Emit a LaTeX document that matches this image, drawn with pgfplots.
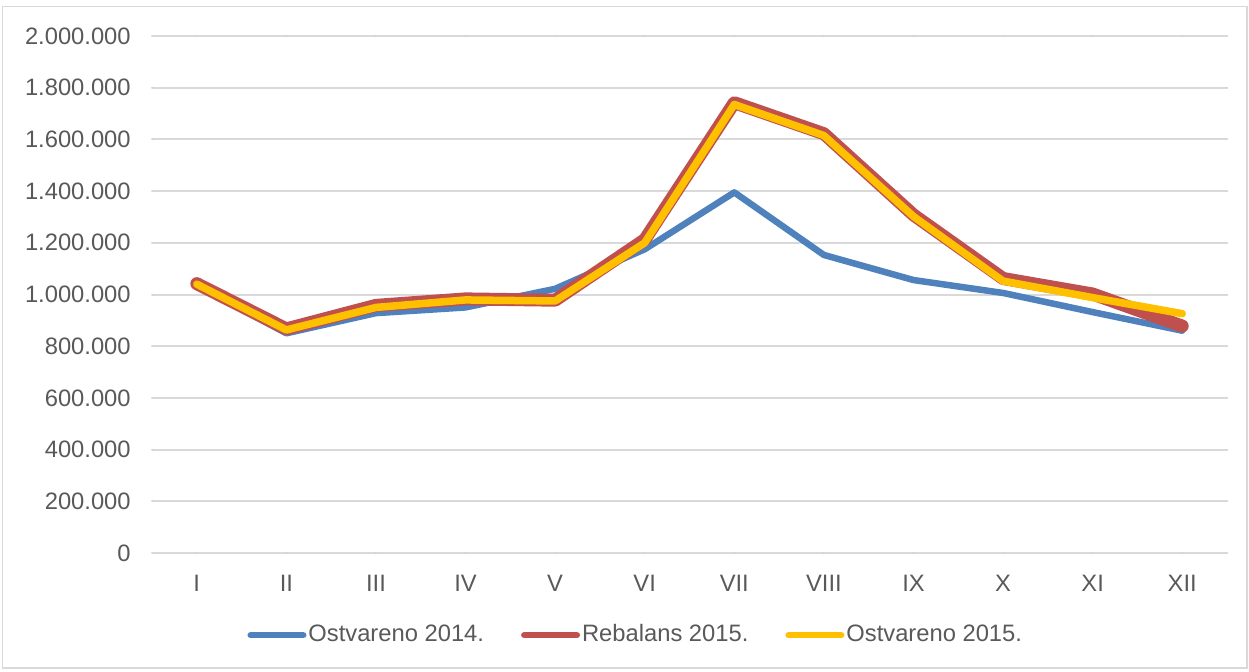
\documentclass[border=0pt]{standalone}
\usepackage{fontspec}
\setmainfont{Liberation Sans}
\usepackage{pgfplots}
\pgfplotsset{compat=1.18}
\definecolor{cblue}{HTML}{4F81BD}
\definecolor{cred}{HTML}{C0504D}
\definecolor{cyellow}{HTML}{FFC000}
\definecolor{gridgray}{HTML}{D9D9D9}
\definecolor{textgray}{HTML}{595959}
\begin{document}
\begin{tikzpicture}[x=1pt,y=1pt]
\useasboundingbox (0,0) rectangle (499.6,268.4);
\draw[gridgray, line width=0.6pt] (1,1.2) rectangle (498.8,265.8);
\begin{axis}[
  at={(60.8pt,47.2pt)}, anchor=south west,
  scale only axis, width=430pt, height=206.8pt,
  xmin=-0.5, xmax=11.5, ymin=0, ymax=2000000,
  ytick={0,200000,400000,600000,800000,1000000,1200000,1400000,1600000,1800000,2000000},
  xtick={0,1,2,3,4,5,6,7,8,9,10,11},
  xticklabels={I,II,III,IV,V,VI,VII,VIII,IX,X,XI,XII},
  scaled y ticks=false,
  /pgf/number format/assume math mode=true,
  /pgf/number format/fixed,
  /pgf/number format/1000 sep={.},
  axis line style={draw=none},
  major tick length=0pt,
  ymajorgrids, grid style={gridgray, line width=0.8pt},
  tick label style={font=\fontsize{9.5}{11}\selectfont, text=textgray},
  yticklabel style={xshift=-5pt},
  xticklabel style={yshift=-5.4pt},
  legend columns=-1,
  legend style={at={(0.45,-0.159)}, anchor=center, draw=none, fill=none,
    font=\fontsize{9.5}{11}\selectfont, text=textgray,
    nodes={inner sep=0.8pt},
    /tikz/every even column/.append style={column sep=14pt}},
  legend image code/.code={\draw[#1, line width=2.6pt, line cap=round] (0pt,0pt) -- (21pt,0pt);},
  line join=round, line cap=round,
]
\addplot[cblue, line width=2.6pt] coordinates {
 (0,1035000) (1,850000) (2,928000) (3,950000) (4,1022000) (5,1175000)
 (6,1395000) (7,1153000) (8,1056000) (9,1006000) (10,932000) (11,860000)};
\addlegendentry{Ostvareno 2014.}
\addplot[cred, line width=5.2pt] coordinates {
 (0,1042000) (1,867000) (2,958000) (3,983000) (4,978000) (5,1212000)
 (6,1742000) (7,1622000) (8,1308000) (9,1062000) (10,1002000) (11,878000)};
\addlegendentry{Rebalans 2015.}
\addplot[cyellow, line width=3pt] coordinates {
 (0,1040000) (1,863000) (2,950000) (3,979000) (4,975000) (5,1200000)
 (6,1735000) (7,1615000) (8,1302000) (9,1052000) (10,988000) (11,926000)};
\addlegendentry{Ostvareno 2015.}
\end{axis}
\end{tikzpicture}
\end{document}
